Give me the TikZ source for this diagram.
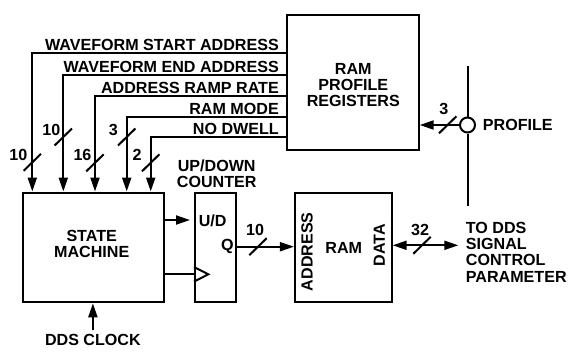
\documentclass[tikz,border=0pt]{standalone}
\usepackage{fontspec}
\setmainfont{Liberation Sans}
\usetikzlibrary{arrows.meta}
\begin{document}
\begin{tikzpicture}[x=1pt,y=-1pt,
  every node/.style={font=\bfseries\fontsize{16.1}{16.2}\selectfont, inner sep=0pt},
  box/.style={draw, line width=2pt, inner sep=0pt},
  wire/.style={line width=2pt},
  arr/.style={wire, -{Triangle[length=14pt,width=9pt]}},
  darr/.style={wire, {Triangle[length=14pt,width=9pt]}-{Triangle[length=14pt,width=9pt]}},
  lbl/.style={align=center},
  busmark/.pic={\draw[line width=2pt] (-8.7,8.5) -- (8.7,-8.5);}]
\fill[white] (0,0) rectangle (569,354);
\useasboundingbox (0,0) rectangle (569,354);

% boxes
\node[box, minimum width=131.4pt, minimum height=135pt] (rpr) at (353,82.5) {};
\node[lbl] at (353.3,85.2) {RAM\\PROFILE\\REGISTERS};

\node[box, minimum width=141.6pt, minimum height=109.8pt] (sm) at (93.5,247.4) {};
\node[lbl] at (91.7,244.2) {STATE\\MACHINE};

\node[box, minimum width=41pt, minimum height=109.6pt] (cnt) at (215.5,247.5) {};
\node[lbl] at (216.7,173.6) {UP/DOWN\\COUNTER};
\node at (212.7,220.5) {U/D};
\node at (227.5,246.7) {Q};

\node[box, minimum width=96.7pt, minimum height=109.6pt] (ram) at (343.3,247.5) {};
\node[rotate=90] at (307,251.7) {ADDRESS};
\node at (343.8,247.8) {RAM};
\node[rotate=90] at (379.3,245.3) {DATA};

% register outputs to state machine
\draw[arr] (rpr.west |- 0,53.3) -| (sm.north -| 32.3,0);
\draw[arr] (rpr.west |- 0,75) -| (sm.north -| 63.3,0);
\draw[arr] (rpr.west |- 0,96) -| (sm.north -| 95,0);
\draw[arr] (rpr.west |- 0,117.3) -| (sm.north -| 126.7,0);
\draw[arr] (rpr.west |- 0,137.3) -| (sm.north -| 150.7,0);

\node[anchor=base east] at (279,50.6) {WAVEFORM START ADDRESS};
\node[anchor=base east] at (279,72.3) {WAVEFORM END ADDRESS};
\node[anchor=base east] at (279,93.5) {ADDRESS RAMP RATE};
\node[anchor=base east] at (279,114.5) {RAM MODE};
\node[anchor=base east] at (279,134.6) {NO DWELL};

\pic at (32.3,162.3) {busmark};
\pic at (63.3,137) {busmark};
\pic at (95,162.8) {busmark};
\pic at (126.7,137) {busmark};
\pic at (150.7,162.8) {busmark};
\node at (18.3,154.7) {10};
\node at (51.3,130) {10};
\node at (82.5,155) {16};
\node at (113.3,130) {3};
\node at (137,155) {2};

% state machine to counter
\coordinate (udtip) at (190,220);
\draw[arr] (sm.east |- udtip) -- (udtip);
\draw[wire] (sm.east |- 0,274.3) -- (cnt.west |- 0,274.3);
\draw[wire, line join=miter] (cnt.west |- 0,267) -- (208.3,274.3) -- (cnt.west |- 0,281.6);

% counter to RAM
\draw[arr] (cnt.east |- 0,246.7) -- (ram.west |- 0,246.7);
\pic at (258,246.7) {busmark};
\node at (255,229.5) {10};

% RAM data out
\coordinate (out) at (458.3,245.3);
\draw[darr] (ram.east |- out) -- (out);
\pic at (422,245.3) {busmark};
\node at (420,229.5) {32};
\node[anchor=west, align=left] at (465.7,252.2) {TO DDS\\SIGNAL\\CONTROL\\PARAMETER};

% profile input
\node[draw, circle, line width=2pt, minimum size=15pt] (pc) at (467.5,125) {};
\coordinate (ptop) at (467.5,66);
\coordinate (pbot) at (467.5,206);
\draw[wire] (ptop) -- (pc.north);
\draw[wire] (pc.south) -- (pbot);
\draw[arr] (pc.west) -- (rpr.east |- pc.west);
\pic at (447.7,124.8) {busmark};
\node at (443.8,108.7) {3};
\node[anchor=west] at (482.7,125) {PROFILE};

% clock
\node (clk) at (92.9,340.2) {DDS CLOCK};
\draw[arr] ([yshift=4pt]clk.north) -- (clk.north |- sm.south);
\end{tikzpicture}
\end{document}
